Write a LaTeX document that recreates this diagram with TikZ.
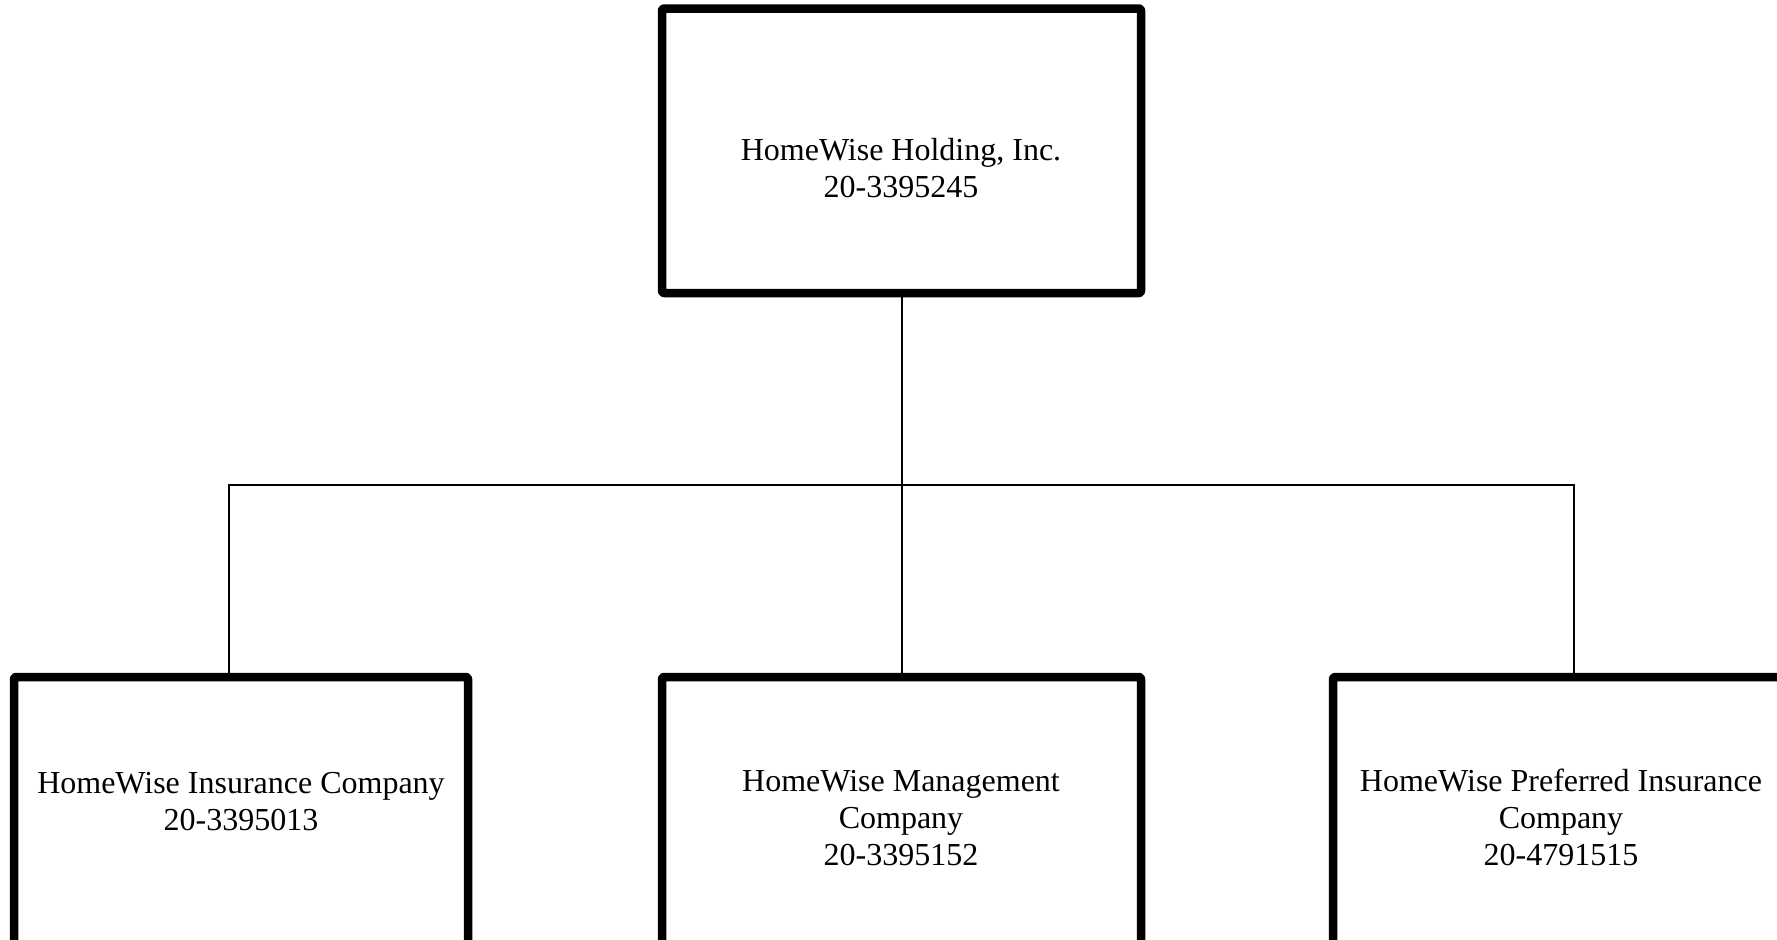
\documentclass[tikz,border=0pt]{standalone}
\usepackage{fontspec}
\setmainfont{Liberation Serif}
\usetikzlibrary{positioning}
\tikzset{
  orgbox/.style={draw=black,line width=4.25pt,line join=round,rounded corners=1pt,fill=white,inner sep=0pt,outer sep=0pt},
  orglabel/.style={align=center,anchor=base,inner sep=0pt,font=\fontsize{16pt}{18.5pt}\selectfont},
  conn/.style={draw=black,line width=1pt}
}
\begin{document}
\begin{tikzpicture}[x=0.5pt,y=-0.5pt]
  \useasboundingbox (0,0) rectangle (1777,939);
  \clip (0,0) rectangle (1777,939);
  \node[orgbox,minimum width=239.5pt,minimum height=142.25pt] (hold) at (901.5,150.75) {};
  \node[orgbox,minimum width=227pt,minimum height=145pt] (ins) at (241,822) {};
  \node[orgbox,minimum width=239.5pt,minimum height=145pt] (mgmt) at (901.5,822) {};
  \node[orgbox,minimum width=228pt,minimum height=145pt] (pref) at (1561,822) {};
  \coordinate (busL) at (229,485);
  \coordinate (busR) at (1574,485);
  \draw[conn] (hold.south) -- (mgmt.north);
  \draw[conn] (ins.north -| busL) -- (busL) -- (busR) -- (pref.north -| busR);
  \node[orglabel] (holdtext) at (901,197) {HomeWise Holding, Inc.\\20-3395245};
  \node[orglabel] (instext) at (241,830) {HomeWise Insurance Company\\20-3395013};
  \node[orglabel] (mgmttext) at (901,865) {HomeWise Management\\Company\\20-3395152};
  \node[orglabel] (preftext) at (1561,865) {HomeWise Preferred Insurance\\Company\\20-4791515};
\end{tikzpicture}
\end{document}
